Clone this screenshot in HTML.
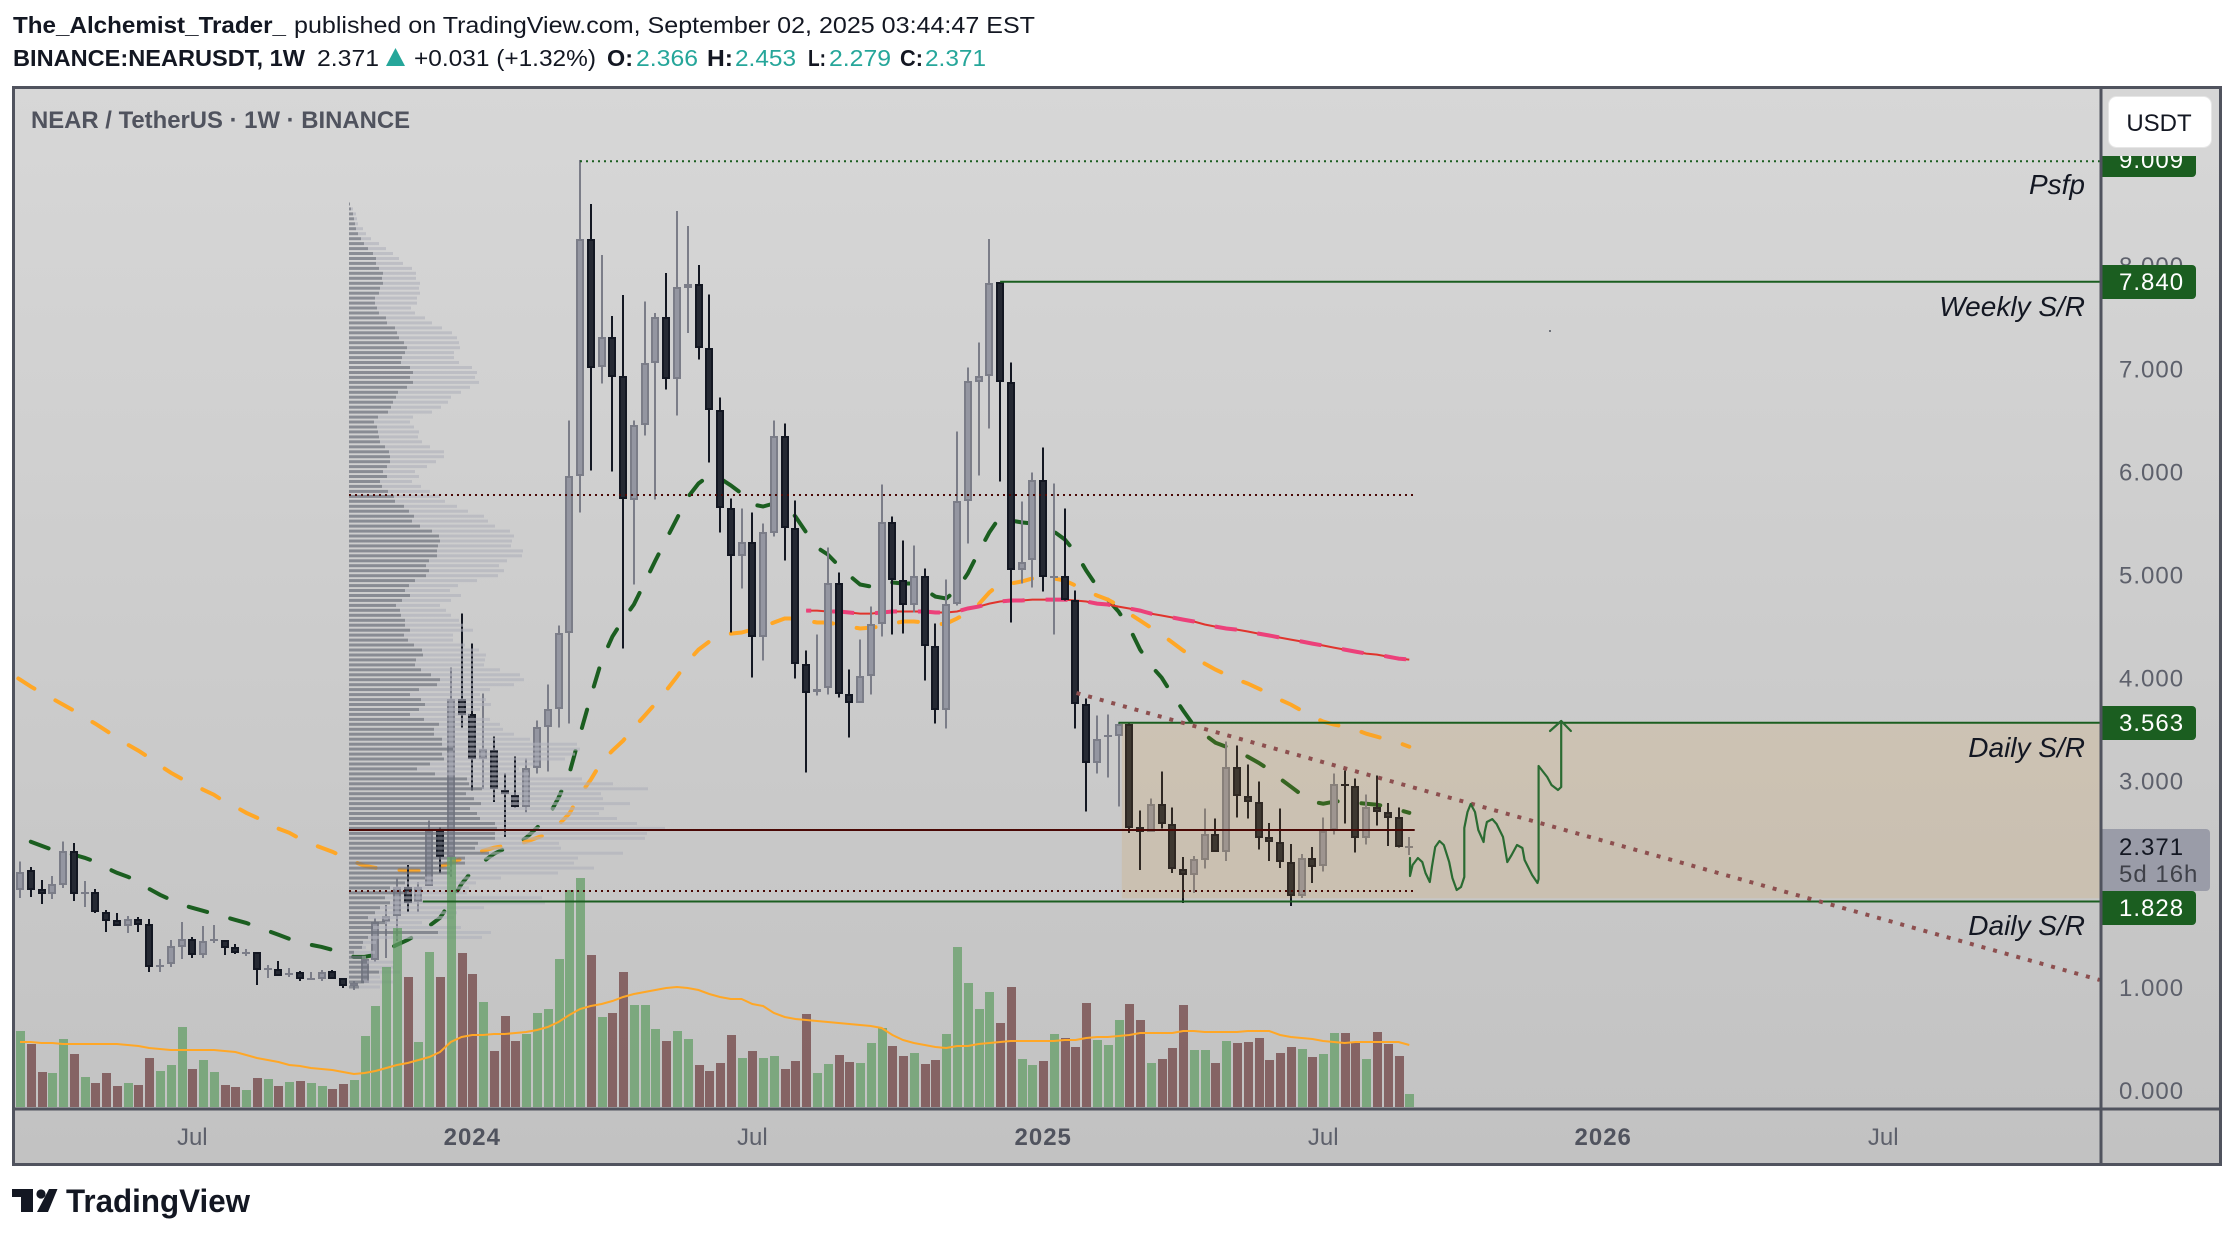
<!DOCTYPE html>
<html lang="en">
<head>
<meta charset="utf-8">
<title>NEARUSDT 1W chart</title>
<style>
html,body{margin:0;padding:0;background:#fff;width:2234px;height:1238px;overflow:hidden}
svg{display:block;font-family:"Liberation Sans",sans-serif}
</style>
</head>
<body>
<svg id="chart" xmlns="http://www.w3.org/2000/svg" width="2234" height="1238" viewBox="0 0 2234 1238">
<defs>
<linearGradient id="bgGrad" x1="0" y1="0" x2="0" y2="1"><stop offset="0" stop-color="#d7d7d7"/><stop offset="1" stop-color="#c2c2c2"/></linearGradient>
<clipPath id="plotClip"><rect x="14" y="89" width="2086" height="1019"/></clipPath>
</defs>

<g>
<text x="13" y="33" font-size="23" font-weight="700" fill="#131722" textLength="273" lengthAdjust="spacingAndGlyphs">The_Alchemist_Trader_</text>
<text x="294" y="33" font-size="23" fill="#131722" textLength="741" lengthAdjust="spacingAndGlyphs">published on TradingView.com, September 02, 2025 03:44:47 EST</text>
<text x="13" y="66" font-size="23" font-weight="700" fill="#131722" textLength="292" lengthAdjust="spacingAndGlyphs">BINANCE:NEARUSDT, 1W</text>
<text x="317" y="66" font-size="23" fill="#131722" textLength="62" lengthAdjust="spacingAndGlyphs">2.371</text>
<polygon points="386,66 395.5,48 405,66" fill="#26a69a"/>
<text x="414" y="66" font-size="23" fill="#131722" textLength="182" lengthAdjust="spacingAndGlyphs">+0.031 (+1.32%)</text>
<text x="607" y="66" font-size="23" font-weight="700" fill="#131722" textLength="26" lengthAdjust="spacingAndGlyphs">O:</text>
<text x="636" y="66" font-size="23" fill="#26a69a" textLength="62" lengthAdjust="spacingAndGlyphs">2.366</text>
<text x="707" y="66" font-size="23" font-weight="700" fill="#131722" textLength="26" lengthAdjust="spacingAndGlyphs">H:</text>
<text x="735" y="66" font-size="23" fill="#26a69a" textLength="61" lengthAdjust="spacingAndGlyphs">2.453</text>
<text x="808" y="66" font-size="23" font-weight="700" fill="#131722" textLength="18" lengthAdjust="spacingAndGlyphs">L:</text>
<text x="829" y="66" font-size="23" fill="#26a69a" textLength="62" lengthAdjust="spacingAndGlyphs">2.279</text>
<text x="900" y="66" font-size="23" font-weight="700" fill="#131722" textLength="23" lengthAdjust="spacingAndGlyphs">C:</text>
<text x="925" y="66" font-size="23" fill="#26a69a" textLength="61" lengthAdjust="spacingAndGlyphs">2.371</text>
</g>

<rect x="13" y="87" width="2208" height="1078" fill="url(#bgGrad)"/>

<g id="plot" clip-path="url(#plotClip)">
<g id="emaLayer"></g>
<g id="candleLayer"></g>
<g id="profileLayer"></g>
<g id="volumeLayer" opacity="0.72"></g>
<g id="volMaLayer"></g>
<g id="drawLayer"></g>
</g>

<text x="2085" y="194" font-size="28" font-style="italic" fill="#131722" text-anchor="end">Psfp</text>
<text x="2085" y="316" font-size="28" font-style="italic" fill="#131722" text-anchor="end">Weekly S/R</text>
<text x="2085" y="757" font-size="28" font-style="italic" fill="#131722" text-anchor="end">Daily S/R</text>
<text x="2085" y="935" font-size="28" font-style="italic" fill="#131722" text-anchor="end">Daily S/R</text>
<text x="31" y="128" font-size="24" font-weight="700" fill="#50535e" textLength="379" lengthAdjust="spacingAndGlyphs">NEAR / TetherUS · 1W · BINANCE</text>

<g id="priceAxis"></g>
<g id="timeAxis"></g>

<rect x="2102" y="89" width="118" height="67" fill="#d6d6d6"/>
<rect x="2108.5" y="96.5" width="103" height="51" rx="8" fill="#ffffff" stroke="#e6e6e6"/>
<text x="2159" y="131" font-size="24" fill="#131722" text-anchor="middle">USDT</text>

<g fill="none" stroke="#50535e" stroke-width="3">
<rect x="13.5" y="87.5" width="2207" height="1077"/>
<line x1="2101" y1="87" x2="2101" y2="1165"/>
<line x1="13" y1="1109" x2="2221" y2="1109"/>
</g>

<g>
<path d="M12 1189H33V1212H21V1197H12Z" fill="#131722"/>
<circle cx="41" cy="1194" r="4.6" fill="#131722"/>
<polygon points="49,1189 57.5,1189 48,1212 37,1212" fill="#131722"/>
<text x="66" y="1212" font-size="32" font-weight="700" fill="#131722" textLength="184" lengthAdjust="spacingAndGlyphs">TradingView</text>
</g>
</svg>

<script>
var opens=[1.942,2.136,1.951,1.903,1.990,2.320,1.917,1.922,1.728,1.650,
1.592,1.660,1.612,1.209,1.223,1.388,1.466,1.311,1.456,1.456,
1.388,1.335,1.340,1.175,1.175,1.126,1.146,1.083,1.078,1.155,
1.087,1.010,1.039,1.262,1.631,1.689,1.971,1.825,1.981,2.515,
2.262,3.796,3.650,3.214,3.301,2.913,2.864,2.748,3.126,3.524,
3.699,4.437,5.951,8.252,7.010,7.301,6.922,5.718,6.447,7.049,
7.495,6.893,7.777,7.816,7.194,6.592,5.641,5.184,5.311,4.398,
5.398,6.340,5.447,4.136,3.864,3.903,4.922,3.845,3.757,4.019,
4.524,5.505,4.942,4.709,4.981,4.311,3.689,4.718,5.709,6.864,
6.922,7.835,6.864,5.039,5.136,5.913,4.971,4.981,4.757,3.748,
3.175,3.437,3.437,3.553,2.553,2.505,2.777,2.583,2.146,2.087,
2.233,2.485,2.311,3.136,2.854,2.796,2.456,2.408,2.214,1.883,
2.252,2.175,2.524,2.971,2.951,2.447,2.748,2.699,2.650,2.366];
var highs=[2.214,2.165,2.039,2.078,2.408,2.398,2.029,1.951,1.748,1.718,
1.689,1.680,1.660,1.272,1.456,1.631,1.485,1.592,1.602,1.456,
1.417,1.369,1.340,1.214,1.252,1.184,1.155,1.146,1.165,1.165,
1.087,1.058,1.272,1.670,1.796,2.049,2.184,2.019,2.612,2.544,
4.097,4.621,4.330,3.845,3.427,3.068,3.233,3.214,3.583,3.932,
4.505,6.495,9.019,8.592,8.097,7.505,7.709,6.495,7.650,7.534,
7.922,8.524,8.379,8.000,7.718,6.718,5.738,5.641,5.602,5.495,
6.495,6.466,5.718,4.262,4.417,5.262,5.019,4.078,4.369,4.689,
5.874,5.563,5.330,5.282,5.058,4.524,4.951,6.388,7.010,7.252,
8.252,7.835,7.058,5.709,5.990,6.233,5.883,5.641,4.845,3.796,
3.631,3.641,3.563,3.563,2.709,2.825,3.087,2.738,2.262,2.272,
2.728,2.631,3.379,3.340,3.155,2.990,2.592,2.728,2.388,2.291,
2.359,2.641,3.068,3.097,3.019,2.864,3.049,2.786,2.738,2.453];
var lows=[1.864,1.874,1.806,1.854,1.961,1.835,1.777,1.718,1.534,1.592,
1.524,1.534,1.146,1.146,1.194,1.272,1.282,1.282,1.427,1.311,
1.320,1.301,1.019,1.087,1.107,1.097,1.058,1.078,1.058,1.078,
0.990,0.971,1.039,1.243,1.282,1.447,1.728,1.728,1.981,2.107,
2.068,3.515,2.903,2.922,2.796,2.456,2.738,2.689,3.068,3.087,
3.515,3.553,5.602,6.010,6.854,6.000,4.282,4.903,6.350,5.728,
6.796,6.544,7.340,7.087,6.087,5.408,4.437,4.864,4.000,4.165,
5.369,5.136,3.990,3.078,3.825,3.835,3.806,3.417,3.757,3.835,
4.398,4.417,4.427,4.631,3.971,3.553,3.505,4.699,5.301,5.961,
6.417,5.903,4.534,4.913,4.874,4.835,4.417,4.748,3.505,2.699,
3.068,3.029,2.748,2.495,2.136,2.505,2.534,2.107,1.816,1.913,
2.146,2.311,2.223,2.641,2.631,2.330,2.223,2.155,1.786,1.864,
2.010,2.117,2.476,2.583,2.301,2.379,2.563,2.369,2.350,2.279];
var closes=[2.117,1.942,1.903,2.000,2.320,1.903,1.922,1.728,1.641,1.592,
1.660,1.602,1.194,1.214,1.398,1.466,1.311,1.447,1.466,1.379,
1.330,1.340,1.165,1.180,1.107,1.136,1.078,1.087,1.146,1.078,
1.010,1.039,1.272,1.631,1.689,1.971,1.816,1.971,2.515,2.262,
3.796,3.641,3.214,3.311,2.922,2.874,2.748,3.126,3.524,3.699,
4.437,5.951,8.252,7.000,7.301,6.913,5.728,6.447,7.049,7.495,
6.893,7.786,7.816,7.194,6.592,5.641,5.184,5.311,4.398,5.408,
6.340,5.447,4.136,3.854,3.893,4.922,3.845,3.757,4.019,4.524,
5.505,4.942,4.709,4.981,4.311,3.689,4.718,5.709,6.874,6.922,
7.825,6.864,5.039,5.126,5.913,4.971,4.981,4.757,3.748,3.175,
3.408,3.447,3.553,2.544,2.505,2.777,2.583,2.146,2.087,2.243,
2.485,2.311,3.136,2.854,2.796,2.447,2.408,2.214,1.883,2.252,
2.165,2.515,2.971,2.966,2.447,2.748,2.699,2.641,2.359,2.371];
var volumes=[76,63,35,34,68,53,30,24,34,21,
24,22,49,36,42,80,38,47,35,22,
20,17,29,28,21,25,26,24,21,18,
23,27,71,101,140,179,130,65,155,130,
250,154,133,105,56,91,66,73,94,98,
148,217,229,152,90,94,135,102,102,78,
66,76,68,42,36,44,72,49,56,49,
51,38,46,93,34,43,52,45,44,64,
79,61,51,54,43,47,73,160,124,98,
115,84,120,48,42,46,73,69,60,104,
67,62,87,103,87,44,48,59,102,57,
57,44,66,64,65,69,47,54,60,58,
50,53,74,74,64,48,75,63,51,13];
var volumeMa=[65,65,64,64,63,63,63,63,63,63,
62,61,59,58,57,57,57,57,57,56,
55,52,49,47,45,42,41,39,38,37,
35,33,34,36,39,42,44,47,50,55,
65,70,72,72,73,73,74,75,77,80,
85,92,98,101,103,106,110,113,115,117,
119,120,119,117,113,110,108,108,103,101,
94,90,88,87,86,85,84,83,82,81,
79,72,67,64,62,60,59,61,61,63,
64,65,66,66,66,66,66,67,67,69,
70,70,71,72,74,74,74,74,76,76,
75,75,75,75,76,76,76,72,70,69,
68,66,65,64,65,65,65,65,65,62];
var greenEmaStart=1;
var greenEma=[2.408,2.369,2.330,2.301,2.282,2.252,2.214,2.155,2.107,
2.068,2.029,1.951,1.893,1.845,1.796,1.767,1.738,1.709,1.680,
1.650,1.621,1.583,1.544,1.505,1.466,1.437,1.408,1.388,1.359,
1.330,1.291,1.291,1.311,1.359,1.408,1.456,1.515,1.592,1.670,
1.825,2.000,2.126,2.214,2.291,2.340,2.379,2.447,2.544,2.641,
2.835,3.068,3.447,3.816,4.165,4.398,4.563,4.709,4.922,5.136,
5.340,5.544,5.748,5.883,5.961,5.932,5.864,5.786,5.680,5.660,
5.689,5.680,5.563,5.408,5.262,5.194,5.087,4.990,4.903,4.883,
4.922,4.922,4.913,4.913,4.854,4.786,4.767,4.854,5.010,5.214,
5.408,5.563,5.524,5.505,5.495,5.466,5.417,5.340,5.214,5.039,
4.883,4.757,4.641,4.485,4.272,4.117,4.000,3.835,3.680,3.534,
3.447,3.369,3.330,3.282,3.233,3.175,3.107,3.019,2.942,2.864,
2.796,2.777,2.796,2.806,2.786,2.777,2.767,2.748,2.718,2.689];
var orangeEmaStart=-1;
var orangeEma=[4.050,3.981,3.913,3.854,3.796,3.738,3.680,3.612,3.553,3.485,3.417,
3.350,3.291,3.223,3.146,3.078,3.019,2.971,2.913,2.864,2.796,
2.748,2.689,2.641,2.592,2.534,2.495,2.437,2.388,2.350,2.311,
2.262,2.214,2.175,2.155,2.146,2.136,2.126,2.126,2.126,2.165,
2.204,2.243,2.282,2.320,2.350,2.369,2.379,2.408,2.447,2.485,
2.573,2.680,2.864,3.010,3.184,3.291,3.388,3.515,3.631,3.748,
3.874,4.010,4.155,4.272,4.350,4.398,4.427,4.437,4.466,4.495,
4.534,4.573,4.573,4.553,4.534,4.534,4.515,4.495,4.476,4.485,
4.495,4.524,4.544,4.544,4.534,4.515,4.524,4.573,4.631,4.709,
4.825,4.913,4.913,4.932,4.961,4.961,4.961,4.942,4.893,4.845,
4.796,4.757,4.699,4.621,4.553,4.485,4.417,4.340,4.262,4.194,
4.136,4.078,4.029,3.981,3.942,3.893,3.845,3.786,3.738,3.680,
3.621,3.573,3.544,3.524,3.495,3.456,3.427,3.398,3.369,3.330];
var redEmaStart=73;
var redEma=[4.650,4.650,4.641,4.641,4.631,4.621,4.621,4.631,4.641,4.641,4.641,4.641,4.631,4.631,4.641,4.670,4.689,4.718,4.738,4.748,4.748,4.757,4.757,4.757,4.757,4.748,4.738,4.718,4.709,4.689,4.670,4.650,4.621,4.602,4.583,4.563,4.544,4.515,4.495,4.476,4.466,4.447,4.427,4.408,4.388,4.369,4.350,4.330,4.311,4.291,4.272,4.252,4.233,4.223,4.204,4.184,4.175];
var profileHigh=8.594;
var profileLow=0.999;
var profileDark=[1,2,4,5,6,7,9,12,15,19,24,27,27,30,34,33,34,31,30,26,26,28,30,37,38,46,48,50,55,58,56,53,52,61,64,61,64,58,49,47,44,42,39,29,25,28,29,30,31,36,40,41,41,38,34,38,31,33,39,45,46,55,60,65,63,71,83,90,91,89,88,88,80,77,80,77,66,60,56,61,53,47,51,52,56,56,
61,55,59,65,73,74,67,66,72,82,91,88,70,61,72,76,70,61,75,90,85,85,
93,93,104,93,95,81,68,86,118,120,133,117,125,132,121,128,131,146,148,146,146,129,126,140,116,116,101,101,76,56,41,58,36,41,31,26,19,36,24,89,19,14,13,5,13,18,20,30,20,15,10];
var profileTotal=[1,4,7,8,9,14,17,22,30,37,44,50,54,63,67,67,71,70,71,68,68,62,66,76,83,93,103,108,110,111,105,105,110,123,128,126,130,121,112,102,99,92,83,64,61,65,70,69,73,81,95,95,87,78,66,70,63,72,81,91,96,108,119,135,139,146,161,165,163,162,174,173,158,150,155,149,128,109,101,112,102,91,97,102,110,114,
124,104,104,116,130,137,136,135,151,171,175,165,141,131,137,142,131,121,141,151,154,165,
181,228,231,226,216,190,170,180,233,264,299,252,254,281,255,250,268,288,316,298,296,210,212,274,229,225,245,209,152,127,120,118,193,196,135,108,105,73,112,142,133,27,17,26,17,45,45,51,31,44,31];
var priceTicks=[8,7,6,5,4,3,2,1,0];
var timeBars=[16,42,68,95,121,147,173];
var timeLabels=['Jul','2024','Jul','2025','Jul','2026','Jul'];
var timeBold=[false,true,false,true,false,true,false];
var levelPrices=[9.009,7.84,3.563,1.828];
var levelBars=[52,91,102,37.4];
var levelTagText=['9.009','7.840','3.563','1.828'];
var levelDotted=[true,false,false,false];
var profileLinePrices=[5.771,2.522,1.93];
var profileLineDotted=[true,false,true];
var trendBars=[98.1,193.1];
var trendPrices=[3.851,1.067];
var forecastBars=[129.06,129.06,129.3,129.8,130.2,130.5,130.9,131.1,131.4,131.8,132.2,132.7,133,133.4,133.8,134.1,134.1,134.4,134.7,135.1,135.4,135.9,136,136.2,136.7,137.1,137.7,138.1,138.5,139,139.5,139.7,140.4,140.9,141,141,141.8,142.2,142.8,143.1,143.1];
var forecastPrices=[2.25,2.076,2.182,2.25,2.21,2.105,2.017,2.163,2.357,2.415,2.376,2.21,2.056,1.94,1.969,2.066,2.541,2.696,2.774,2.696,2.522,2.405,2.502,2.599,2.628,2.58,2.454,2.21,2.279,2.376,2.347,2.231,2.085,2.008,2.047,3.143,3.036,2.958,2.91,2.939,3.579];
var arrowBars=[142.06,143.1,144];
var arrowPrices=[3.482,3.579,3.482];

function xAt(i){return 20+i*10.77;}
function yAt(p){return 1090-p*103.1;}
function vAt(v){return 1107-v;}
var NS='http://www.w3.org/2000/svg';
function mk(parentEl,tagName,attrs){
  var el=document.createElementNS(NS,tagName);
  for(var k in attrs){el.setAttribute(k,attrs[k]);}
  parentEl.appendChild(el);
  return el;
}
function linePath(vals,start){
  var d='';
  for(var i=0;i<vals.length;i++){d+=(i?'L':'M')+xAt(i+start).toFixed(1)+' '+yAt(vals[i]).toFixed(1);}
  return d;
}
var emaLayer=document.getElementById('emaLayer');
var candleLayer=document.getElementById('candleLayer');
var profileLayer=document.getElementById('profileLayer');
var volumeLayer=document.getElementById('volumeLayer');
var volMaLayer=document.getElementById('volMaLayer');
var drawLayer=document.getElementById('drawLayer');
var priceAxis=document.getElementById('priceAxis');
var timeAxis=document.getElementById('timeAxis');

var gLine=mk(emaLayer,'path',{d:linePath(greenEma,greenEmaStart),fill:'none',stroke:'#1b5e20','stroke-width':4,'stroke-linecap':'round','stroke-dasharray':'19 24'});


var oLine=mk(emaLayer,'path',{d:linePath(orangeEma,orangeEmaStart),fill:'none',stroke:'#ffa726','stroke-width':4,'stroke-linecap':'round','stroke-dasharray':'19 24','stroke-dashoffset':'-11'});


var rLine=mk(emaLayer,'path',{d:linePath(redEma,redEmaStart),fill:'none',stroke:'#e0342c','stroke-width':2});


var pLine=mk(emaLayer,'path',{d:linePath(redEma,redEmaStart),fill:'none',stroke:'#ec407a','stroke-width':4,'stroke-dasharray':'22 21','stroke-dashoffset':'-26'});



for(var c=0;c<opens.length;c++){
  var isUp=closes[c]>=opens[c];
  var cx=Math.round(xAt(c));
  var edge=isUp?'#7b7d88':'#131722';
  var fillCol=isUp?'#9496a1':'#252933';
  var bodyTop=Math.round(yAt(Math.max(opens[c],closes[c])));
  var bodyBot=Math.round(yAt(Math.min(opens[c],closes[c])));
  if(bodyBot-bodyTop<2){bodyBot=bodyTop+2;}
  var wick=mk(candleLayer,'rect',{x:cx-1,y:yAt(highs[c]).toFixed(1),width:2,height:(yAt(lows[c])-yAt(highs[c])).toFixed(1),fill:edge,'shape-rendering':'crispEdges'});
  
  
  var bodyRect=mk(candleLayer,'rect',{x:cx-4,y:bodyTop,width:8,height:bodyBot-bodyTop,fill:edge,'shape-rendering':'crispEdges'});
  
  
  if(bodyBot-bodyTop>4){
    var inner=mk(candleLayer,'rect',{x:cx-2,y:bodyTop+2,width:4,height:bodyBot-bodyTop-4,fill:fillCol,'shape-rendering':'crispEdges'});
    
    
  }
  var vbar=mk(volumeLayer,'rect',{x:cx-4,y:vAt(volumes[c]),width:9,height:volumes[c],fill:isUp?'#619d64':'#6e3f40','shape-rendering':'crispEdges'});
  
  
}

var vd='';
for(var m=0;m<volumeMa.length;m++){vd+=(m?'L':'M')+xAt(m).toFixed(1)+' '+vAt(volumeMa[m]);}
var vmaPath=mk(volMaLayer,'path',{d:vd,fill:'none',stroke:'#ffa726','stroke-width':2});



var nRows=profileDark.length;
for(var r=0;r<nRows;r++){
  var rowPrice=profileHigh-r*(profileHigh-profileLow)/(nRows-1);
  var ry=yAt(rowPrice)-1.5;
  var lightRow=mk(profileLayer,'rect',{x:349+profileDark[r],y:ry.toFixed(1),width:Math.max(profileTotal[r]-profileDark[r],0),height:3,fill:'#b0b2bb','fill-opacity':0.62});
  
  
  var darkRow=mk(profileLayer,'rect',{x:349,y:ry.toFixed(1),width:profileDark[r],height:3,fill:'#6e717d','fill-opacity':0.72});
  
  
}

var zoneRect=mk(drawLayer,'rect',{x:xAt(102.3).toFixed(1),y:yAt(levelPrices[2]).toFixed(1),width:(2101-xAt(102.3)).toFixed(1),height:(yAt(1.86)-yAt(levelPrices[2])).toFixed(1),fill:'#dd962b','fill-opacity':0.14});



for(var pl=0;pl<profileLinePrices.length;pl++){
  var ply=yAt(profileLinePrices[pl]);
  var pline=mk(drawLayer,'line',{x1:349,x2:xAt(129.5).toFixed(1),y1:ply.toFixed(1),y2:ply.toFixed(1),stroke:'#4a0805','stroke-width':2});
  if(profileLineDotted[pl]){pline.setAttribute('stroke-dasharray','2 4');}
  
  
}
for(var lv=0;lv<levelPrices.length;lv++){
  var ly=yAt(levelPrices[lv]);
  var lline=mk(drawLayer,'line',{x1:xAt(levelBars[lv]).toFixed(1),x2:2101,y1:ly.toFixed(1),y2:ly.toFixed(1),stroke:'#1b5e20','stroke-width':2});
  if(levelDotted[lv]){lline.setAttribute('stroke-dasharray','2 4');}
  
  
}
var trend=mk(drawLayer,'line',{x1:xAt(trendBars[0]).toFixed(1),y1:yAt(trendPrices[0]).toFixed(1),x2:xAt(trendBars[1]).toFixed(1),y2:yAt(trendPrices[1]).toFixed(1),stroke:'#8d4f4f','stroke-width':4,'stroke-dasharray':'4 8.05'});



var fd='';
for(var f=0;f<forecastBars.length;f++){fd+=(f?'L':'M')+xAt(forecastBars[f]).toFixed(1)+' '+yAt(forecastPrices[f]).toFixed(1);}
var fPath=mk(drawLayer,'path',{d:fd,fill:'none',stroke:'#2a6b32','stroke-width':2.2,'stroke-linejoin':'round','stroke-linecap':'round'});


var ad='';
for(var a=0;a<arrowBars.length;a++){ad+=(a?'L':'M')+xAt(arrowBars[a]).toFixed(1)+' '+yAt(arrowPrices[a]).toFixed(1);}
var aPath=mk(drawLayer,'path',{d:ad,fill:'none',stroke:'#2a6b32','stroke-width':2.2,'stroke-linejoin':'round','stroke-linecap':'round'});


var speck=mk(drawLayer,'circle',{cx:1550,cy:331,r:1,fill:'#50535e'});



for(var t=0;t<priceTicks.length;t++){
  var tick=mk(priceAxis,'text',{x:2119,y:(yAt(priceTicks[t])+9).toFixed(1),'font-size':24,'letter-spacing':1,fill:'#5d606b'});
  tick.textContent=priceTicks[t].toFixed(3);
  
  
}
var curTag=mk(priceAxis,'path',{d:'M2102 829H2206a4 4 0 0 1 4 4V887a4 4 0 0 1 -4 4H2102Z',fill:'#9a9ca8'});


var curVal=mk(priceAxis,'text',{x:2119,y:855,'font-size':24,'letter-spacing':1,fill:'#131722'});
curVal.textContent=closes[closes.length-1].toFixed(3);


var curCd=mk(priceAxis,'text',{x:2119,y:882,'font-size':24,'letter-spacing':1,fill:'#3f4149'});
curCd.textContent='5d 16h';


var levelTagNudge=[-1,0,0,6];
for(var g=0;g<levelPrices.length;g++){
  var gy=Math.round(yAt(levelPrices[g]))+levelTagNudge[g];
  var tagPath=mk(priceAxis,'path',{d:'M2102 '+(gy-17)+'H2192a4 4 0 0 1 4 4V'+(gy+13)+'a4 4 0 0 1 -4 4H2102Z',fill:'#1b5e20'});
  
  
  var tagText=mk(priceAxis,'text',{x:2119,y:gy+8,'font-size':24,'letter-spacing':1,fill:'#ffffff'});
  tagText.textContent=levelTagText[g];
  
  
}
for(var q=0;q<timeLabels.length;q++){
  var tl=mk(timeAxis,'text',{x:xAt(timeBars[q]).toFixed(1),y:1145,'font-size':24,'text-anchor':'middle','letter-spacing':timeBold[q]?1:0,'font-weight':timeBold[q]?700:400,fill:timeBold[q]?'#50535e':'#5d606b'});
  tl.textContent=timeLabels[q];
  
  
}
</script>
</body>
</html>
